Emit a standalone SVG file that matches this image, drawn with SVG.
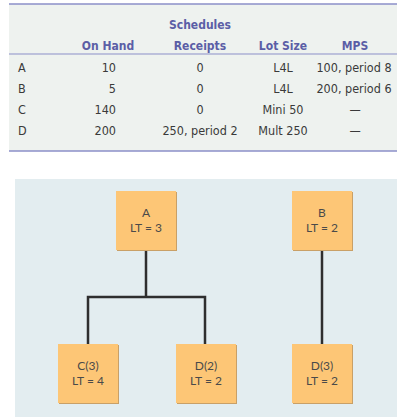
<svg xmlns="http://www.w3.org/2000/svg" width="411" height="417" viewBox="0 0 411 417">
<style>
.th{font-family:"DejaVu Sans Condensed","Liberation Sans Narrow","Liberation Sans",sans-serif;font-stretch:condensed;font-weight:bold;font-size:12px;fill:#5b5ea6;text-anchor:middle}
.td{font-family:"DejaVu Sans Condensed","Liberation Sans Narrow","Liberation Sans",sans-serif;font-stretch:condensed;font-size:12.5px;fill:#3a3a3a}
.c{text-anchor:middle}
.r{text-anchor:end}
.rule{stroke:#8b8fc8;stroke-width:1.5}
.box{fill:#fdc676}
.shadow{fill:#c9a067}
.nt{font-family:"Lato","Open Sans",sans-serif;font-size:12px;fill:#4a4a4a;text-anchor:middle}
.edge{stroke:#2e2e2e;stroke-width:2.5;fill:none}
</style>
<rect x="9" y="4" width="388" height="147" fill="#eef2ef"/>
<line class="rule" x1="9" y1="4" x2="397" y2="4"/>
<line class="rule" x1="9" y1="54" x2="397" y2="54" style="stroke-width:1"/>
<line class="rule" x1="9" y1="151" x2="397" y2="151"/>
<text class="th" x="200" y="29">Schedules</text>
<text class="th" x="108" y="50">On Hand</text>
<text class="th" x="200" y="50">Receipts</text>
<text class="th" x="283" y="50">Lot Size</text>
<text class="th" x="355" y="50">MPS</text>
<g class="td">
<text x="18" y="72">A</text><text class="r" x="116" y="72">10</text><text class="c" x="200" y="72">0</text><text class="c" x="283" y="72">L4L</text><text class="c" x="354" y="72">100, period 8</text>
<text x="18" y="93">B</text><text class="r" x="116" y="93">5</text><text class="c" x="200" y="93">0</text><text class="c" x="283" y="93">L4L</text><text class="c" x="354" y="93">200, period 6</text>
<text x="18" y="114">C</text><text class="r" x="116" y="114">140</text><text class="c" x="200" y="114">0</text><text class="c" x="283" y="114">Mini 50</text><text class="c" x="355" y="114">—</text>
<text x="18" y="135">D</text><text class="r" x="116" y="135">200</text><text class="c" x="200" y="135">250, period 2</text><text class="c" x="283" y="135">Mult 250</text><text class="c" x="355" y="135">—</text>
</g>
<rect x="15" y="179" width="382" height="238" fill="#e3edf0"/>
<g id="connectors">
<polyline class="edge" points="146,250 146,297"/>
<polyline class="edge" points="88,345 88,297 205,297 205,345"/>
<polyline class="edge" points="322,250 322,345"/>
</g>
<g id="nodeA"><rect class="shadow" x="117" y="192" width="60" height="59"/><rect class="box" x="116" y="191" width="60" height="59"/><text class="nt" x="146" y="217">A</text><text class="nt" x="146" y="232">LT = 3</text></g>
<g id="nodeB"><rect class="shadow" x="293" y="192" width="60" height="59"/><rect class="box" x="292" y="191" width="60" height="59"/><text class="nt" x="322" y="217">B</text><text class="nt" x="322" y="232">LT = 2</text></g>
<g id="nodeC3"><rect class="shadow" x="59" y="345" width="60" height="59"/><rect class="box" x="58" y="344" width="60" height="59"/><text class="nt" x="88" y="370">C(3)</text><text class="nt" x="88" y="385">LT = 4</text></g>
<g id="nodeD2"><rect class="shadow" x="177" y="345" width="60" height="59"/><rect class="box" x="176" y="344" width="60" height="59"/><text class="nt" x="206" y="370">D(2)</text><text class="nt" x="206" y="385">LT = 2</text></g>
<g id="nodeD3"><rect class="shadow" x="293" y="345" width="60" height="59"/><rect class="box" x="292" y="344" width="60" height="59"/><text class="nt" x="322" y="370">D(3)</text><text class="nt" x="322" y="385">LT = 2</text></g>
</svg>
